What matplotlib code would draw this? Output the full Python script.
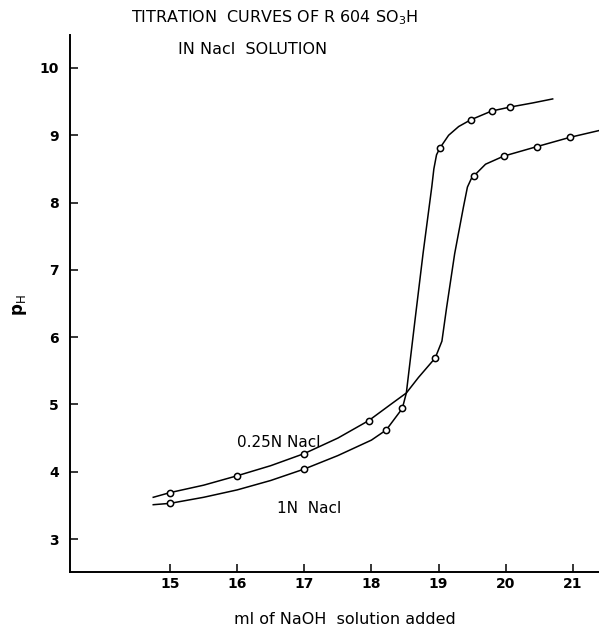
import matplotlib
matplotlib.use('Agg')
import matplotlib.pyplot as plt

# traced curve shapes
n1_line_x = [14.75, 15, 15.5, 16, 16.5, 17, 17.5, 18, 18.22, 18.46, 18.52, 18.65, 18.77,
             18.90, 18.93, 18.97, 19.02, 19.15, 19.3, 19.48, 19.79, 20.07, 20.4, 20.70]
n1_line_ph = [3.51, 3.53, 3.62, 3.73, 3.87, 4.04, 4.24, 4.47, 4.62, 4.94, 5.17, 6.26, 7.25,
              8.24, 8.50, 8.71, 8.81, 9.00, 9.13, 9.23, 9.36, 9.42, 9.48, 9.54]
n025_line_x = [14.75, 15, 15.5, 16, 16.5, 17, 17.5, 17.96, 18.3, 18.52, 18.7, 18.95, 19.05,
               19.12, 19.24, 19.37, 19.43, 19.49, 19.53, 19.7, 19.97, 20.46, 20.96, 21.39]
n025_line_ph = [3.62, 3.69, 3.80, 3.94, 4.09, 4.27, 4.50, 4.76, 5.01, 5.17, 5.40, 5.69, 5.94,
                6.44, 7.24, 7.93, 8.23, 8.36, 8.40, 8.57, 8.69, 8.83, 8.97, 9.07]

# measured points
n1_pts_x = [15, 17, 18.22, 18.46, 19.02, 19.48, 19.79, 20.07]
n1_pts_ph = [3.53, 4.04, 4.62, 4.94, 8.81, 9.23, 9.36, 9.42]
n025_pts_x = [15, 16, 17, 17.96, 18.95, 19.53, 19.97, 20.46, 20.96]
n025_pts_ph = [3.69, 3.94, 4.27, 4.76, 5.69, 8.40, 8.69, 8.83, 8.97]

xticks = [15, 16, 17, 18, 19, 20, 21]
yticks = [3, 4, 5, 6, 7, 8, 9, 10]

fig = plt.figure(figsize=(5.99, 6.34), dpi=100)
ax = fig.add_axes([70/599, 1-572/634, 529/599, 537/634])

kw = dict(color='black', lw=1.1)
ax.plot(n1_line_x, n1_line_ph, **kw)
ax.plot(n025_line_x, n025_line_ph, **kw)
mk = dict(ls='none', marker='o', ms=4.5, mfc='white', mec='black', mew=1.1)
ax.plot(n1_pts_x, n1_pts_ph, **mk)
ax.plot(n025_pts_x, n025_pts_ph, **mk)

ax.set_xlim(13.51, 21.39)
ax.set_ylim(2.51, 10.49)
ax.set_xticks(xticks)
ax.set_yticks(yticks)
ax.tick_params(direction='in', length=6, width=1.1, labelsize=10)
ax.tick_params(axis='y', pad=8)
for t in ax.get_xticklabels() + ax.get_yticklabels():
    t.set_fontweight('bold')
ax.spines['top'].set_visible(False)
ax.spines['right'].set_visible(False)
ax.spines['left'].set_linewidth(1.4)
ax.spines['bottom'].set_linewidth(1.4)

ax.text(16.0, 4.43, '0.25N Nacl', fontsize=11, ha='left', va='center')
ax.text(16.6, 3.45, '1N  Nacl', fontsize=11, ha='left', va='center')

fig.text(275/599, 1-18/634, 'TITRATION  CURVES OF R 604 SO$_3$H', fontsize=11.5,
         ha='center', va='center')
fig.text(253/599, 1-50/634, 'IN Nacl  SOLUTION', fontsize=11.5, ha='center', va='center')
fig.text(345/599, 1-620/634, 'ml of NaOH  solution added', fontsize=11.5,
         ha='center', va='center')
fig.text(20/599, 1-305/634, 'p$_\\mathrm{H}$', fontsize=12, fontweight='bold',
         rotation=90, ha='center', va='center')

fig.savefig('out.png', dpi=100)
